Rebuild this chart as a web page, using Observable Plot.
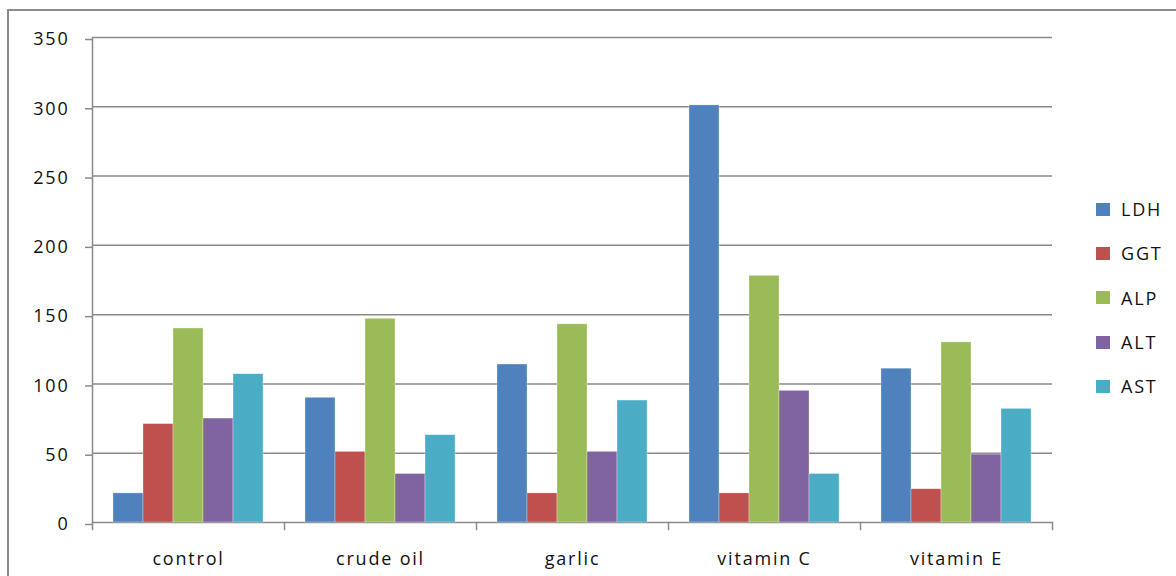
<!DOCTYPE html>
<html>
<head>
<meta charset="utf-8">
<script src="https://cdn.jsdelivr.net/npm/d3@7"></script>
<script src="https://cdn.jsdelivr.net/npm/@observablehq/plot@0.6"></script>
<style>
  html, body { margin: 0; padding: 0; background: #fff; }
  #wrap { position: relative; width: 1176px; height: 576px; overflow: hidden; font-family: "Open Sans", sans-serif; }
  #border { position: absolute; left: 7px; top: 9px; width: 1300px; height: 700px; border-left: 2px solid #8c8c8c; border-top: 2px solid #8c8c8c; }
  #chart { position: absolute; left: 0; top: 0; }
  #chart svg text { letter-spacing: 1.8px; }
  #legend { position: absolute; left: 1096px; top: 187px; }
  .item { display: flex; align-items: center; height: 44.3px; font-size: 18px; letter-spacing: 1.8px; color: #111; }
  .sw { width: 14px; height: 13px; margin-right: 11px; }
</style>
</head>
<body>
<div id="wrap">
  <div id="border"></div>
  <div id="chart"></div>
  <div id="legend"></div>
</div>
<script>
const groups = ["control", "crude oil", "garlic", "vitamin C", "vitamin E"];
const seriesNames = ["LDH", "GGT", "ALP", "ALT", "AST"];
const colors = ["#4F81BD", "#C0504D", "#9BBB59", "#8064A2", "#4BACC6"];
const LDH = [21, 90, 114, 301, 111];
const GGT = [71, 51, 21, 21, 24];
const ALP = [140, 147, 143, 178, 130];
const ALT = [75, 35, 51, 95, 49];
const AST = [107, 63, 88, 35, 82];
const yTicks = [0, 50, 100, 150, 200, 250, 300, 350];

const seriesValues = {LDH, GGT, ALP, ALT, AST};
const data = [];
groups.forEach((g, i) => {
  seriesNames.forEach(s => data.push({group: g, series: s, value: seriesValues[s][i]}));
});

const plot = Plot.plot({
  width: 1176,
  height: 576,
  marginLeft: 90,
  marginRight: 123,
  marginTop: 37,
  marginBottom: 54,
  style: {fontFamily: "Open Sans", fontSize: "18px", color: "#111", background: "transparent"},
  fx: {domain: groups, paddingInner: 0, paddingOuter: 0, label: null},
  x: {domain: seriesNames, paddingInner: 0, paddingOuter: 0.64, axis: null},
  y: {domain: [0, 350], label: null},
  color: {domain: seriesNames, range: colors},
  marks: [
    Plot.ruleY(yTicks, {stroke: "#8a8a8a", strokeWidth: 1.5}),
    Plot.frame({anchor: "left", facetAnchor: "left", stroke: "#8a8a8a", strokeWidth: 1.5}),
    Plot.frame({anchor: "left", stroke: "#8a8a8a", strokeWidth: 1.5, insetTop: 485, insetBottom: -7}),
    Plot.frame({anchor: "right", facetAnchor: "right", stroke: "#8a8a8a", strokeWidth: 1.5, insetTop: 485, insetBottom: -7}),
    Plot.barY(data, {fx: "group", x: "series", y: "value", fill: "series", stroke: "#ffffff", strokeOpacity: 0.5, strokeWidth: 0.6}),
    Plot.axisY({ticks: yTicks, tickSize: 7, tickPadding: 16, stroke: "#8a8a8a", fill: "#111", strokeWidth: 1.5, label: null, dy: 2}),
    Plot.axisFx({anchor: "bottom", tickSize: 0, tickPadding: 30, fill: "#111", label: null})
  ]
});
document.getElementById("chart").appendChild(plot);

const legend = document.getElementById("legend");
seriesNames.forEach((s, i) => {
  const item = document.createElement("div");
  item.className = "item";
  const sw = document.createElement("div");
  sw.className = "sw";
  sw.style.background = colors[i];
  const label = document.createElement("span");
  label.textContent = s;
  item.appendChild(sw);
  item.appendChild(label);
  legend.appendChild(item);
});
</script>
</body>
</html>
